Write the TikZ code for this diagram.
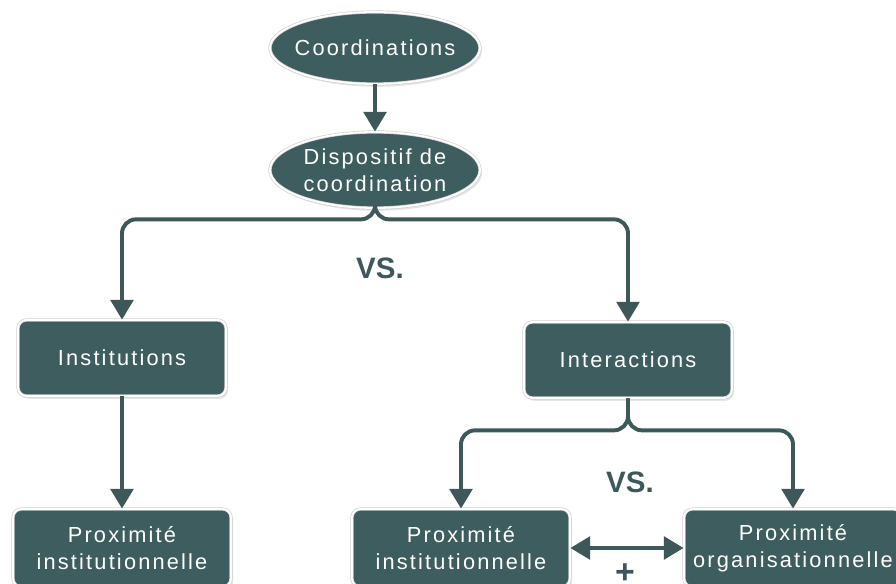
\documentclass[tikz,border=0pt]{standalone}
\usepackage{fontspec}
\setmainfont{Liberation Sans}
\newfontfamily\boxfont[LetterSpace=10]{Liberation Sans}
\usetikzlibrary{shapes.geometric}
\usetikzlibrary{arrows.meta}
\usetikzlibrary{shadows}
\definecolor{slate}{RGB}{62,93,94}
\definecolor{slateline}{RGB}{62,88,90}

\begin{document}
\begin{tikzpicture}[x=0.025cm, y=-0.025cm,
		card/.style={fill=slate, draw=black!18, double=white, double distance=1.3pt, line width=0.5pt, text=white, align=center, inner sep=0pt, font=\boxfont\fontsize{15.5}{19}\selectfont, drop shadow={opacity=0.2, shadow xshift=1.5pt, shadow yshift=-2pt}},
		oval/.style={card, ellipse, inner xsep=-6pt, minimum width=5.25cm, minimum height=1.8cm},
		box/.style={card, rectangle, rounded corners=6pt, minimum width=5.2cm, minimum height=1.9cm},
		prox/.style={box, minimum width=5.45cm, minimum height=1.95cm},
		link/.style={slateline, line width=2.8pt, rounded corners=10pt, -{Triangle[width=16pt,length=14pt]}},
		vs/.style={text=slateline, font=\fontsize{21}{24}\selectfont\bfseries}]
			\useasboundingbox (0,0) rectangle (896,584);
			\node[oval] (coord) at (375,48) {Coordinations};
			\node[oval, minimum height=1.9cm] (disp) at (375,170) {Dispositif de\\coordination};
			\node[box] (inst) at (122,358) {Institutions};
			\node[box] (inter) at (628,360) {Interactions};
			\node[prox] (pinst) at (122,548) {Proximité\\institutionnelle};
			\node[prox] (pmid) at (461,548) {Proximité\\institutionnelle};
			\node[prox] (porg) at (793,548) {Proximité\\organisationnelle};
			\node[vs] (vsa) at (380,268) {VS.};
			\node[vs] (vsb) at (630,482) {VS.};
			\node[vs, font=\fontsize{24}{24}\selectfont\bfseries] (plus) at (625,574) {+};
			\draw[link] (coord) -- (disp);
			\draw[link] (disp.south) -- ++(0,11) -| (inst.north);
			\draw[link] (disp.south) -- ++(0,11) -| (inter.north);
			\draw[link] (inst) -- (pinst);
			\draw[link] (inter.south) -- ++(0,32) -| (pmid.north);
			\draw[link] (inter.south) -- ++(0,32) -| (porg.north);
			\draw[link, {Triangle[width=16pt,length=14pt]}-{Triangle[width=16pt,length=14pt]}] (pmid) -- (porg);
		\end{tikzpicture}
\end{document}
